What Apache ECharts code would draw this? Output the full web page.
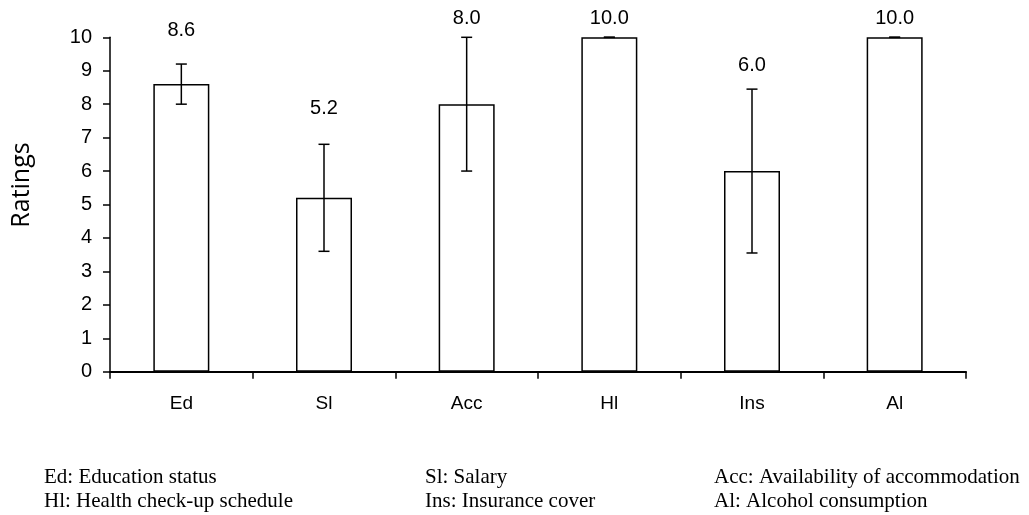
<!DOCTYPE html>
<html>
<head>
<meta charset="utf-8">
<script src="https://cdn.jsdelivr.net/npm/echarts@6/dist/echarts.min.js"></script>
<style>html,body{margin:0;padding:0;background:#fff;}#c{width:1029px;height:515px;}</style>
</head>
<body>
<div id="c"></div>
<script>
const categories = ['Ed', 'Sl', 'Acc', 'Hl', 'Ins', 'Al'];
const means = [8.6, 5.2, 8.0, 10.0, 6.0, 10.0];
const errors = [0.6, 1.6, 2.0, 0.0, 2.45, 0.0];
const valueLabels = ['8.6', '5.2', '8.0', '10.0', '6.0', '10.0'];
const yTicks = [0, 1, 2, 3, 4, 5, 6, 7, 8, 9, 10];
const yTitle = 'Ratings';
const footnotes = [
  ['Ed: Education status', 'Sl: Salary', 'Acc: Availability of accommodation'],
  ['Hl: Health check-up schedule', 'Ins: Insurance cover', 'Al: Alcohol consumption']
];

// style: how far above the bar top each value label sits (px)
const labelRise = [55, 91, 87, 20, 107, 20];
const footX = [44, 425, 714];
const footY = [477, 501];

const chart = echarts.init(document.getElementById('c'), null, {renderer: 'canvas'});
const sans = '"Liberation Sans", Arial, sans-serif';

const errData = categories.map((c, i) => [i, means[i], errors[i]]);

const graphics = [];
footnotes.forEach((row, r) => {
  row.forEach((t, k) => {
    graphics.push({
      type: 'text', x: footX[k], y: footY[r],
      style: {text: t, font: '21px "Liberation Serif", "Times New Roman", serif', fill: '#000',
              verticalAlign: 'middle', align: 'left'}
    });
  });
});
graphics.push({
  type: 'text', x: 22, y: 185, rotation: Math.PI / 2,
  style: {text: yTitle, font: '25px "Open Sans", sans-serif', fill: '#000',
          align: 'center', verticalAlign: 'middle'}
});

chart.setOption({
  animation: false,
  backgroundColor: '#fff',
  grid: {left: 110, right: 63, top: 37.3, bottom: 143.3, containLabel: false},
  xAxis: {
    type: 'category', data: categories, boundaryGap: true,
    axisLine: {lineStyle: {color: '#000', width: 2}},
    axisTick: {show: true, length: 7, lineStyle: {color: '#000', width: 1.5}},
    axisLabel: {color: '#000', fontFamily: sans, fontSize: 19, margin: 23}
  },
  yAxis: {
    type: 'value', min: yTicks[0], max: yTicks[yTicks.length - 1], interval: 1,
    axisLine: {show: true, lineStyle: {color: '#000', width: 1.5}},
    axisTick: {show: true, length: 7, lineStyle: {color: '#000', width: 1.5}},
    axisLabel: {color: '#000', fontFamily: sans, fontSize: 20, margin: 18},
    splitLine: {show: false}
  },
  series: [
    {
      type: 'bar', data: means, barWidth: 56,
      itemStyle: {color: '#fff', borderColor: '#000', borderWidth: 1.5},
      z: 2
    },
    {
      type: 'custom', data: errData, z: 5,
      renderItem: function (params, api) {
        const i = api.value(0);
        const m = api.value(1);
        const e = api.value(2);
        const top = api.coord([i, m + e]);
        const bot = api.coord([i, m - e]);
        const mid = api.coord([i, m]);
        const hw = 5.5;
        const ls = {stroke: '#000', lineWidth: 1.5};
        return {
          type: 'group',
          children: [
            {type: 'line', shape: {x1: top[0], y1: top[1], x2: bot[0], y2: bot[1]}, style: ls},
            {type: 'line', shape: {x1: top[0] - hw, y1: top[1], x2: top[0] + hw, y2: top[1]}, style: ls},
            {type: 'line', shape: {x1: bot[0] - hw, y1: bot[1], x2: bot[0] + hw, y2: bot[1]}, style: ls},
            {type: 'text', x: mid[0], y: mid[1] - labelRise[i] + 1.5,
             style: {text: valueLabels[i], font: '20px ' + sans, fill: '#000', align: 'center', verticalAlign: 'middle'}}
          ]
        };
      }
    }
  ],
  graphic: graphics
});
</script>
</body>
</html>
